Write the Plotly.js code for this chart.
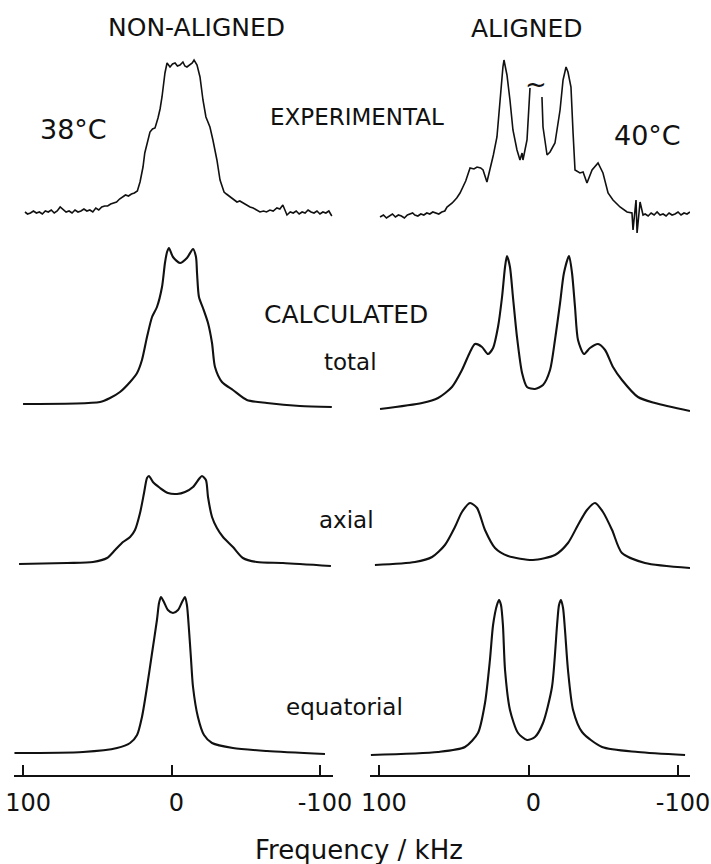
<!DOCTYPE html>
<html>
<head>
<meta charset="utf-8">
<script src="https://cdn.plot.ly/plotly-3.0.1.min.js"></script>
<style>html,body{margin:0;padding:0;background:#fff}#chart{width:711px;height:864px}</style>
</head>
<body>
<div id="chart"></div>
<script>
// ---------- DATA (frequency in kHz, intensity in arbitrary units above each baseline) ----------
const tickVals = [100, 0, -100];
const tickText = ["100", "0", "-100"];

// NON-ALIGNED, experimental 38 °C
const expLFreq = [98.7,97,95,93,91,89,87,85,83,81,79,77,75,73,71,69,67,65,63,61,59,57,55,53,51,49,47,45,43,41,39,37,35,33,31,29,27,25,23,21.2,19.2,18,16.5,14.5,12.8,11.1,9.1,7.7,6.4,5.3,4.4,3.0,1.0,-0.7,-2.4,-4,-5.7,-7.7,-9,-10.4,-12.5,-14,-15.2,-17.2,-19.2,-21.2,-23.2,-25.9,-27.9,-30.6,-32.7,-35.4,-37,-39.4,-42,-44.1,-46,-48.1,-50.5,-52.9,-55,-57,-59.6,-62,-64,-66.3,-68.5,-71,-73,-75,-76.5,-77.8,-80,-82,-84,-86,-88,-90,-92,-94,-96,-98,-100,-102,-104,-106,-108];
const expLInt  = [1,-1,0,2,0,1,-1,2,1,3,0,2,6,3,1,2,0,3,1,2,4,2,3,1,5,3,6,7,7,9,10,11,14,16,18,17,19,20,22,31,46,60,70,81,84,85,95,104,116,130,140,150,146,149,150,147,148,151,147,146,148,150,153,148,136,113,96,86,73,53,33,21,19,16,13,11,12,10,8,6,5,3,1,2,1,3,2,5,4,8,3,-2,1,0,2,-1,1,0,3,1,0,2,-1,1,0,2,-3];

// ALIGNED, experimental 40 °C (null = break under the truncated centre line)
const expRFreq = [99.3,97,95,93,91,89,87,85,83,81,79,77.5,76,74,72,70,68,66,64,62,60,58,56,54.5,51,48,45.8,42,39.1,36.5,34.4,32,30.4,27.8,25.8,23.5,21.1,19.1,17.1,16.4,14.4,12.4,10.4,7.7,5.7,4.3,3.7,1.0,-0.3,-1.0,-4,-9.0,-9.7,-12.4,-14.4,-17.7,-21.1,-23.1,-25.1,-26.4,-28.4,-29.8,-31.1,-34.4,-36.5,-39.1,-42.5,-46.5,-49.8,-53.2,-56.5,-61.2,-65.9,-69.2,-69.9,-71.9,-72.6,-74.6,-76.6,-78,-80,-82,-84,-86,-88,-90,-92,-94,-96,-98,-100,-102,-104,-106,-108];
const expRInt  = [0,2,-1,1,3,0,2,1,-1,2,3,4,2,1,3,2,4,3,5,4,3,5,6,10,14,19,24,36,49,48,50,49,47,35,47,62,80,117,150,157,142,117,87,67,57,64,57,77,117,129,null,120,90,62,65,74,107,137,150,145,130,84,47,44,45,34,47,54,44,24,17,10,5,4,-13,17,-16,15,2,3,1,4,2,5,2,3,1,4,2,3,5,2,4,3,5];

// NON-ALIGNED, calculated total
const totLFreq = [100,48.1,41.4,34.7,27.9,23.2,19.9,16.5,13.1,9.8,6.4,4.4,3.0,1.7,-1.0,-5.7,-10.4,-14.5,-16.5,-17.2,-18.5,-21.2,-24.6,-27.3,-29.3,-34.0,-41.4,-50.8,-64.3,-86.5,-108];
const totLInt  = [0,2,6,12,22,31,44,67,87,97,117,141,152,156,147,141,146,155,147,131,107,96,81,61,37,22,14,4,1,-2,-3];

// ALIGNED, calculated total
const totRFreq = [99.3,71.2,60.5,51.2,44.5,39.1,35.8,31.1,27.1,23.7,20.4,17.7,15.7,14.4,12.4,10.4,7.7,4.3,1.0,-4.3,-9.7,-14.4,-17.7,-21.1,-23.7,-27.1,-29.1,-31.1,-33.1,-37.1,-41.1,-46.5,-51.2,-56.5,-62.5,-73.2,-84.6,-108];
const totRInt  = [0,6,11,22,39,57,65,62,55,61,82,112,142,153,142,112,72,36,22,20,24,39,69,106,136,153,136,102,69,55,61,65,59,42,29,12,6,-2];

// NON-ALIGNED, calculated axial
const axLFreq = [102.7,70.4,52.9,43.4,38.0,32.7,27.9,24.6,21.2,18.5,16.5,15.2,12.5,7.7,2.4,-3.7,-9.1,-14.5,-18.5,-20.5,-23.2,-24.6,-27.3,-30.6,-34.7,-41.4,-48.1,-57.5,-75.1,-107.4];
const axLInt  = [0,1,2,6,14,22,27,34,51,71,86,88,82,76,71,70,72,77,85,88,84,67,47,36,27,17,6,2,1,-2];

// ALIGNED, calculated axial
const axRFreq = [102.7,75.9,64.5,55.9,49.2,44.5,39.1,34.4,29.1,22.4,13.7,-3.0,-17.7,-26.4,-33.1,-39.1,-44.5,-49.8,-55.9,-62.5,-77.9,-108];
const axRInt  = [0,3,8,20,38,53,62,57,35,17,9,5,10,22,40,55,62,53,35,12,2,-3];

// NON-ALIGNED, calculated equatorial
const eqLFreq = [105.8,59.6,36.7,27.9,23.2,19.9,16.5,13.1,9.8,8.4,7.1,5.1,2.4,-1.0,-4.4,-7.1,-9.1,-10.4,-11.8,-13.1,-14.5,-17.8,-21.9,-27.3,-41.4,-64.3,-103.4];
const eqLInt  = [0,1,5,10,18,36,66,100,133,150,156,151,143,140,143,151,156,148,123,95,66,36,18,10,5,2,-1];

// ALIGNED, calculated equatorial
const eqRFreq = [105.4,60.5,42.5,33.8,29.1,25.8,23.7,21.1,19.7,18.4,17.1,15.7,12.4,7.0,1.0,-4.3,-9.7,-15.7,-19.1,-20.4,-21.7,-23.1,-24.4,-26.4,-29.8,-35.8,-49.2,-73.2,-104.7];
const eqRInt  = [0,3,8,22,52,95,130,150,155,150,130,85,45,22,15,18,32,68,130,150,155,147,125,85,45,23,8,3,0];

const columnTitles = ["NON-ALIGNED", "ALIGNED"];
const temperatures = ["38°C", "40°C"];
const rowLabels = ["EXPERIMENTAL", "CALCULATED", "total", "axial", "equatorial"];
const xTitle = "Frequency / kHz";

// ---------- LAYOUT ----------
const W = 711, H = 864;
const FONT = "DejaVu Sans, Liberation Sans, sans-serif";
const INK = "#111";
const px = v => v / W;            // horizontal pixel -> paper
const py = v => 1 - v / H;        // vertical pixel -> paper

// rows: [top, bottom] pixel band, baseline left, baseline right
const rows = [
  {top: 40,  bot: 240, bl: 213, br: 217},
  {top: 240, bot: 425, bl: 404, br: 409},
  {top: 425, bot: 585, bl: 564, br: 565},
  {top: 585, bot: 775, bl: 753, br: 755}
];
const series = [
  [expLFreq, expLInt, expRFreq, expRInt, true],
  [totLFreq, totLInt, totRFreq, totRInt, false],
  [axLFreq, axLInt, axRFreq, axRInt, false],
  [eqLFreq, eqLInt, eqRFreq, eqRInt, false]
];

const traces = [];
const layout = {
  width: W, height: H,
  margin: {l: 0, r: 0, t: 0, b: 0},
  paper_bgcolor: "#fff", plot_bgcolor: "rgba(0,0,0,0)",
  showlegend: false,
  font: {family: FONT, color: INK},
  annotations: []
};

const axisCommon = {
  showgrid: false, zeroline: false, showline: true, linecolor: INK, linewidth: 2,
  tickmode: "array", tickvals: tickVals, ticktext: tickText,
  ticks: "inside", ticklen: 10, tickwidth: 2, tickcolor: INK,
  tickfont: {family: FONT, size: 24, color: INK},
  ticklabelstandoff: 5, ticklabeloverflow: "allow", ticklabelshift: -5, fixedrange: true
};
layout.xaxis  = Object.assign({}, axisCommon, {domain: [px(14), px(333)], range: [106.1, -108.8], anchor: "y4"});
layout.xaxis2 = Object.assign({}, axisCommon, {domain: [px(370), px(690)], range: [106.0, -108.0], anchor: "y8"});

rows.forEach((r, i) => {
  const dom = [py(r.bot), py(r.top)];
  const hidden = {visible: false, fixedrange: true, domain: dom};
  layout["yaxis" + (i + 1)] = Object.assign({}, hidden, {anchor: "x",  range: [-(r.bot - r.bl), r.bl - r.top]});
  layout["yaxis" + (i + 5)] = Object.assign({}, hidden, {anchor: "x2", range: [-(r.bot - r.br), r.br - r.top]});
  const s = series[i];
  const exp = s[4];
  const line = exp ? {color: INK, width: 1.6} : {color: INK, width: 2.1, shape: "spline", smoothing: 0.7};
  traces.push({type: "scatter", mode: "lines", x: s[0], y: s[1], xaxis: "x",  yaxis: "y" + (i + 1), line: line, hoverinfo: "skip", connectgaps: false});
  traces.push({type: "scatter", mode: "lines", x: s[2], y: s[3], xaxis: "x2", yaxis: "y" + (i + 5), line: line, hoverinfo: "skip", connectgaps: false});
});
layout.yaxis = layout.yaxis1; delete layout.yaxis1;

function ann(text, x, y, size, extra) {
  layout.annotations.push(Object.assign({
    text: text, xref: "paper", yref: "paper", x: px(x), y: py(y),
    xanchor: "center", yanchor: "middle", showarrow: false,
    font: {family: FONT, size: size, color: INK}
  }, extra || {}));
}
ann(columnTitles[0], 196, 27, 25);
ann(columnTitles[1], 527, 29, 25);
ann(temperatures[0], 73, 129, 27);
ann(temperatures[1], 647, 135, 27);
ann(rowLabels[0], 357, 117, 23);
ann(rowLabels[1], 346, 314, 25);
ann(rowLabels[2], 350, 362, 23);
ann(rowLabels[3], 346, 520, 23);
ann(rowLabels[4], 344, 707, 23);
ann("~", 536, 84, 26);
ann(xTitle, 359, 850, 26);

Plotly.newPlot("chart", traces, layout, {staticPlot: true, displayModeBar: false});
</script>
</body>
</html>
